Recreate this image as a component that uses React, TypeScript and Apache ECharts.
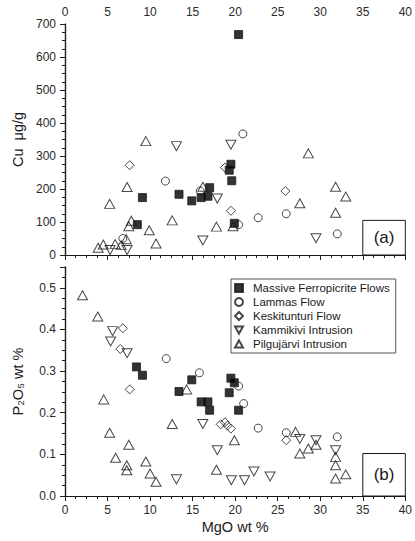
import React, { useEffect, useRef } from "react";
import * as echarts from "echarts";

const seriesNames = [
  "Massive Ferropicrite Flows",
  "Lammas Flow",
  "Keskitunturi Flow",
  "Kammikivi Intrusion",
  "Pilgujärvi Intrusion",
];

// MgO wt %, Cu µg/g
const ferroCu = [[8.5, 92], [9.1, 174], [13.4, 184], [14.9, 164], [16.0, 174], [16.8, 178], [17.0, 204], [19.3, 257], [19.5, 275], [19.6, 225], [19.9, 96], [20.4, 668]];
const lammasCu = [[6.8, 50], [11.8, 224], [15.9, 194], [20.4, 92], [20.9, 367], [22.7, 113], [26.0, 125], [32.0, 64]];
const keskiCu = [[7.6, 272], [18.8, 265], [19.5, 134], [25.9, 194]];
const kammiCu = [[5.3, 15], [7.3, 15], [13.1, 330], [16.2, 44], [17.9, 171], [19.5, 334], [29.5, 51]];
const pilguCu = [[3.9, 22], [4.5, 32], [5.25, 155], [5.9, 33], [6.6, 30], [7.2, 48], [7.3, 206], [7.5, 87], [7.8, 104], [9.5, 345], [9.9, 75], [10.7, 35], [12.6, 105], [16.2, 207], [17.8, 86], [19.75, 87], [27.6, 157], [28.6, 308], [31.8, 128], [31.8, 207], [33.0, 177]];

// MgO wt %, P2O5 wt %
const ferroP = [[8.4, 0.31], [9.1, 0.29], [13.4, 0.251], [14.9, 0.279], [16.0, 0.226], [16.8, 0.226], [17.0, 0.206], [19.3, 0.248], [19.5, 0.283], [19.9, 0.272], [20.4, 0.206]];
const lammasP = [[11.9, 0.33], [15.8, 0.296], [20.4, 0.264], [21.0, 0.222], [22.7, 0.163], [26.0, 0.152], [32.0, 0.142]];
const keskiP = [[6.5, 0.353], [6.8, 0.403], [7.6, 0.256], [18.3, 0.172], [18.8, 0.177], [19.1, 0.169], [19.5, 0.162], [26.0, 0.134]];
const kammiP = [[5.36, 0.371], [5.6, 0.396], [7.3, 0.343], [13.1, 0.04], [16.2, 0.173], [17.9, 0.11], [19.55, 0.038], [21.1, 0.038], [22.2, 0.059], [24.1, 0.047], [27.6, 0.137], [29.5, 0.134], [31.8, 0.11]];
const pilguP = [[2.06, 0.482], [3.85, 0.431], [4.55, 0.232], [5.25, 0.152], [5.95, 0.092], [7.26, 0.074], [7.26, 0.062], [7.5, 0.123], [9.5, 0.083], [10.0, 0.054], [10.7, 0.034], [12.6, 0.173], [14.3, 0.256], [17.8, 0.063], [19.9, 0.134], [27.1, 0.154], [27.6, 0.102], [28.6, 0.114], [29.5, 0.123], [31.8, 0.094], [31.8, 0.074], [31.8, 0.042], [33.0, 0.052]];

const xTicks = [0, 5, 10, 15, 20, 25, 30, 35, 40];
const cuTicks = [0, 100, 200, 300, 400, 500, 600, 700];
const pTicks = [0.0, 0.1, 0.2, 0.3, 0.4, 0.5];

const FONT = "'Liberation Sans', Arial, Helvetica, sans-serif";
const INK = "#1a1a1a";
const DOWN_TRI = "path://M0,0 L10,0 L5,9 Z";
const UP_TRI = "path://M5,0 L10,9 L0,9 Z";

const styles = [
  { symbol: "rect", size: 8, fill: "#000" },
  { symbol: "circle", size: 8, fill: "rgba(0,0,0,0)" },
  { symbol: "diamond", size: 9, fill: "rgba(0,0,0,0)" },
  { symbol: DOWN_TRI, size: [10, 9], fill: "rgba(0,0,0,0)" },
  { symbol: UP_TRI, size: [10, 9], fill: "rgba(0,0,0,0)" },
];

export default function App() {
  const ref = useRef<HTMLDivElement>(null);
  useEffect(() => {
    if (!ref.current) return;
    const chart = echarts.init(ref.current, undefined, { renderer: "svg" });
    const cuSets = [ferroCu, lammasCu, keskiCu, kammiCu, pilguCu];
    const pSets = [ferroP, lammasP, keskiP, kammiP, pilguP];

    const axisLine = { show: true, lineStyle: { color: INK, width: 1.2 } };
    const label = { fontSize: 12, color: "#2a2a2a", fontFamily: FONT };

    const xAxisBase = (gridIndex: number, position: string, showLabel: boolean, inside: boolean) => ({
      type: "value",
      gridIndex,
      position,
      min: xTicks[0],
      max: xTicks[xTicks.length - 1],
      interval: 5,
      axisLine,
      axisTick: { show: true, inside, length: 5, lineStyle: { color: INK } },
      minorTick: { show: true, splitNumber: 4, length: 3, lineStyle: { color: INK } },
      splitLine: { show: false },
      axisLabel: { show: showLabel, margin: position === "top" ? 6 : 8, ...label },
    });

    const yAxisBase = (gridIndex: number, position: string, ticks: number[], interval: number, showLabel: boolean, inside: boolean, fmt?: (v: number) => string) => ({
      type: "value",
      gridIndex,
      position,
      min: ticks[0],
      max: gridIndex === 0 ? ticks[ticks.length - 1] : 0.55,
      interval,
      axisLine,
      axisTick: { show: true, inside, length: 5, lineStyle: { color: INK } },
      minorTick: { show: true, splitNumber: 4, length: 3, lineStyle: { color: INK } },
      splitLine: { show: false },
      axisLabel: {
        show: showLabel,
        margin: 9,
        ...label,
        formatter: fmt ? fmt : undefined,
        showMaxLabel: gridIndex === 0,
      },
    });

    const series: any[] = [];
    seriesNames.forEach((name, i) => {
      const st = styles[i];
      const common = {
        type: "scatter",
        name,
        symbol: st.symbol,
        symbolSize: st.size,
        itemStyle: { color: st.fill, borderColor: INK, borderWidth: 1 },
        emphasis: { disabled: true },
        z: 5,
      };
      series.push({ ...common, xAxisIndex: 0, yAxisIndex: 0, data: cuSets[i] });
      series.push({ ...common, xAxisIndex: 2, yAxisIndex: 2, data: pSets[i] });
    });

    series.push({
      type: "scatter",
      xAxisIndex: 0,
      yAxisIndex: 0,
      data: [],
      silent: true,
      markArea: {
        silent: true,
        itemStyle: { color: "rgba(0,0,0,0)", borderColor: INK, borderWidth: 1 },
        label: { show: true, position: "inside", fontSize: 17, color: INK, fontFamily: FONT },
        data: [[{ name: "(a)", coord: [35, 0] }, { coord: [40, 105] }]],
      },
    });
    series.push({
      type: "scatter",
      xAxisIndex: 2,
      yAxisIndex: 2,
      data: [],
      silent: true,
      markArea: {
        silent: true,
        itemStyle: { color: "rgba(0,0,0,0)", borderColor: INK, borderWidth: 1 },
        label: { show: true, position: "inside", fontSize: 17, color: INK, fontFamily: FONT },
        data: [[{ name: "(b)", coord: [35, 0] }, { coord: [40, 0.102] }]],
      },
    });

    chart.setOption({
      animation: false,
      backgroundColor: "#fff",
      textStyle: { fontFamily: FONT },
      grid: [
        { left: 65, right: 7, top: 24, height: 231 },
        { left: 65, right: 7, top: 267, height: 229 },
      ],
      xAxis: [
        { ...xAxisBase(0, "top", true, true) },
        { ...xAxisBase(0, "bottom", false, false) },
        {
          ...xAxisBase(1, "bottom", true, false),
          name: "MgO wt %",
          nameLocation: "middle",
          nameGap: 23,
          nameTextStyle: { fontSize: 14.5, color: INK, fontFamily: FONT },
        },
        { ...xAxisBase(1, "top", false, true) },
      ],
      yAxis: [
        {
          ...yAxisBase(0, "left", cuTicks, 100, true, false),
          name: "Cu  μg/g",
          nameLocation: "middle",
          nameGap: 40,
          nameTextStyle: { fontSize: 14.5, color: INK, fontFamily: FONT },
        },
        { ...yAxisBase(0, "right", cuTicks, 100, false, true) },
        {
          ...yAxisBase(1, "left", pTicks, 0.1, true, false, (v: number) => v.toFixed(1)),
          name: "P₂O₅ wt %",
          nameLocation: "middle",
          nameGap: 40,
          nameTextStyle: { fontSize: 14.5, color: INK, fontFamily: FONT },
        },
        { ...yAxisBase(1, "right", pTicks, 0.1, false, true) },
      ],
      legend: {
        data: seriesNames,
        orient: "vertical",
        left: 231,
        top: 279,
        width: 160,
        padding: [3, 6, 3, 3],
        itemWidth: 8,
        itemHeight: 8,
        itemGap: 2,
        borderColor: "#555",
        borderWidth: 1,
        backgroundColor: "#fff",
        textStyle: { fontSize: 11.5, lineHeight: 12, color: INK, fontFamily: FONT, padding: [0, 0, 0, 5] },
        selectedMode: false,
      },
      series,
    });
    return () => chart.dispose();
  }, []);
  return (
    <div
      ref={ref}
      style={{ position: "absolute", left: 0, top: 0, width: 415, height: 541 }}
    />
  );
}
